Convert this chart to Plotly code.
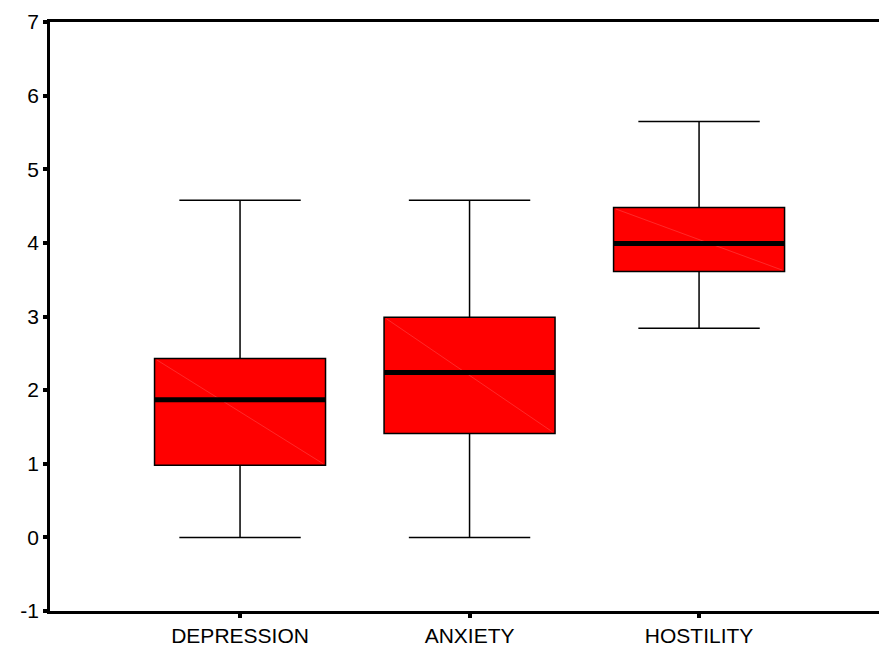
import plotly.graph_objects as go

categories = ["DEPRESSION", "ANXIETY", "HOSTILITY"]
lower_whisker = [0.0, 0.0, 2.84]
q1_vals = [0.98, 1.41, 3.61]
median_vals = [1.87, 2.24, 3.99]
q3_vals = [2.43, 2.99, 4.48]
upper_whisker = [4.58, 4.58, 5.65]
y_ticks = [-1, 0, 1, 2, 3, 4, 5, 6, 7]

BOX_W = 0.745

fig = go.Figure()
fig.add_trace(go.Box(
    x=categories,
    q1=q1_vals, median=median_vals, q3=q3_vals,
    lowerfence=lower_whisker, upperfence=upper_whisker,
    fillcolor="#ff0000",
    line=dict(color="black", width=1.5),
    width=BOX_W,
    whiskerwidth=0.71,
    boxpoints=False,
    hoverinfo="skip",
    showlegend=False,
))

shapes = []
for i, c in enumerate(categories):
    shapes.append(dict(type="line", xref="x", yref="y",
                       x0=i - BOX_W / 2 + 0.01, x1=i + BOX_W / 2 - 0.01,
                       y0=q3_vals[i] - 0.02, y1=q1_vals[i] + 0.02,
                       line=dict(color="rgba(255,150,150,0.55)", width=0.5)))
for i, c in enumerate(categories):
    shapes.append(dict(type="line", xref="x", yref="y",
                       x0=i - BOX_W / 2, x1=i + BOX_W / 2,
                       y0=median_vals[i], y1=median_vals[i],
                       line=dict(color="black", width=5)))

fig.update_layout(
    width=879, height=647,
    margin=dict(l=50, r=0, t=22, b=33),
    paper_bgcolor="white", plot_bgcolor="white",
    font=dict(family="Liberation Sans, Arial, sans-serif", size=21, color="black"),
    shapes=shapes,
    xaxis=dict(
        type="category", range=[-0.828, 2.784],
        showline=True, linecolor="black", linewidth=2.5, mirror=True,
        ticks="outside", ticklen=4, tickwidth=4, tickcolor="black",
        showgrid=False, zeroline=False,
        tickfont=dict(size=21),
    ),
    yaxis=dict(
        range=[-1, 7], tickvals=y_ticks, ticktext=[str(v) for v in y_ticks],
        showline=True, linecolor="black", linewidth=2.5, mirror=False,
        ticks="outside", ticklen=4, tickwidth=4, tickcolor="black",
        showgrid=False, zeroline=False,
        tickfont=dict(size=21),
    ),
)

fig.write_html("out.html",
               config={"displayModeBar": False},
               post_script="document.body.style.margin='0';document.body.style.overflow='hidden';")
